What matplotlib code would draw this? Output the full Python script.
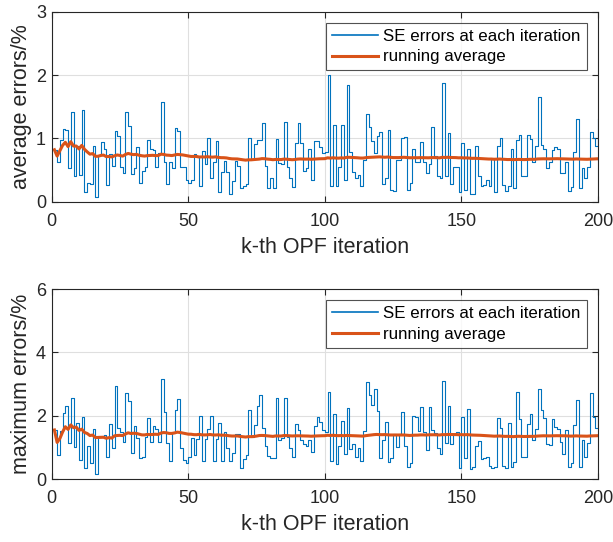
import numpy as np
import matplotlib
matplotlib.use("Agg")
import matplotlib.pyplot as plt

plt.rcParams['font.family'] = ['Liberation Sans', 'DejaVu Sans']

# average SE error per OPF iteration (%)
avg_err = [
    0.82, 0.62, 0.97, 1.15, 1.13, 0.53, 1.41, 0.40, 0.88, 0.42,
    1.45, 0.15, 0.30, 0.28, 0.88, 0.07, 0.74, 0.95, 0.83, 0.26,
    0.75, 0.56, 1.12, 1.04, 0.54, 0.46, 1.42, 1.20, 0.44, 0.53,
    0.87, 0.30, 0.48, 0.54, 0.97, 0.83, 0.81, 0.55, 0.77, 1.57,
    0.62, 0.28, 0.63, 0.53, 1.17, 1.12, 0.55, 0.55, 0.35, 0.29,
    0.35, 0.75, 0.70, 0.24, 0.80, 0.60, 1.00, 0.38, 0.62, 0.96,
    0.16, 0.47, 0.65, 0.47, 0.12, 0.32, 0.64, 0.56, 0.21, 0.24,
    0.28, 1.00, 0.67, 0.91, 0.97, 0.97, 1.25, 0.56, 0.21, 0.37,
    0.21, 0.99, 0.61, 0.59, 1.26, 0.55, 0.38, 0.23, 0.93, 1.25,
    0.92, 0.49, 0.53, 0.83, 0.35, 0.96, 0.96, 0.86, 0.77, 0.78,
    2.00, 0.25, 1.21, 0.25, 0.54, 1.21, 0.34, 1.84, 0.79, 0.47,
    0.37, 0.42, 0.24, 0.66, 1.38, 1.18, 0.96, 0.77, 1.03, 1.10,
    0.28, 0.37, 1.14, 0.18, 0.17, 0.66, 0.66, 1.00, 1.02, 0.19,
    0.29, 0.83, 0.62, 0.62, 0.95, 0.62, 0.46, 0.60, 1.18, 0.72,
    0.40, 0.38, 1.88, 0.40, 1.08, 0.28, 0.55, 0.55, 0.16, 0.92,
    0.18, 0.83, 0.12, 0.12, 0.88, 0.40, 0.24, 0.26, 0.34, 0.25,
    0.67, 0.16, 0.88, 1.00, 0.26, 0.17, 0.24, 0.83, 0.21, 0.97,
    1.05, 0.40, 0.40, 1.05, 0.99, 0.63, 0.88, 1.65, 0.90, 0.84,
    0.53, 0.63, 0.82, 0.86, 0.83, 0.45, 0.45, 0.62, 0.17, 0.23,
    0.78, 1.30, 0.22, 0.53, 0.37, 0.55, 1.10, 1.00, 0.88, 1.30,
]

# maximum SE error per OPF iteration (%)
max_err = [
    1.55, 0.76, 1.53, 2.10, 2.32, 1.15, 2.55, 1.02, 1.78, 0.60,
    1.97, 0.34, 1.04, 0.52, 1.59, 0.15, 1.35, 1.35, 1.39, 0.68,
    1.74, 0.97, 2.95, 1.60, 1.50, 1.18, 2.73, 2.48, 0.81, 1.68,
    1.29, 0.65, 0.71, 1.34, 1.94, 1.18, 1.68, 1.57, 1.18, 3.16,
    2.13, 1.15, 0.58, 1.45, 2.18, 2.53, 0.97, 0.60, 0.50, 0.70,
    1.31, 0.76, 1.26, 2.00, 0.58, 1.26, 1.57, 2.00, 0.58, 1.26,
    1.78, 0.58, 1.47, 0.97, 0.58, 0.83, 1.42, 1.42, 0.34, 0.63,
    0.76, 2.18, 1.32, 1.71, 2.31, 2.66, 1.60, 1.04, 0.73, 0.65,
    0.65, 2.55, 1.23, 1.29, 2.55, 1.34, 0.97, 0.69, 1.73, 1.55,
    1.23, 1.10, 1.04, 1.23, 0.84, 1.66, 1.97, 1.81, 1.55, 1.50,
    2.76, 0.58, 2.06, 0.47, 1.04, 1.84, 0.78, 2.24, 0.94, 1.11,
    0.69, 0.99, 0.58, 1.53, 3.08, 2.66, 2.34, 2.85, 2.15, 0.65,
    1.23, 1.79, 0.54, 0.65, 1.42, 1.02, 1.42, 2.11, 1.04, 0.39,
    0.50, 1.99, 1.95, 1.53, 2.26, 1.47, 0.92, 2.29, 1.55, 1.45,
    0.97, 0.78, 3.11, 1.13, 2.31, 1.11, 1.39, 1.50, 0.34, 1.97,
    0.65, 2.20, 0.31, 0.37, 1.04, 1.20, 0.62, 0.65, 0.71, 0.41,
    0.36, 0.37, 1.94, 1.60, 0.42, 0.34, 1.78, 0.37, 0.55, 2.76,
    1.90, 0.71, 0.71, 1.74, 2.06, 1.23, 1.57, 2.84, 2.18, 1.92,
    1.11, 1.08, 1.89, 1.64, 1.57, 1.18, 0.79, 1.55, 0.39, 0.52,
    1.71, 2.50, 0.39, 1.23, 0.68, 1.13, 2.73, 1.97, 1.60, 2.34,
]

x_ticks = [0, 50, 100, 150, 200]
panels = [
    (avg_err, "average errors/%", [0, 1, 2, 3]),
    (max_err, "maximum errors/%", [0, 2, 4, 6]),
]

blue = '#0072BD'
orange = '#D95319'
axcol = '#262626'

fig = plt.figure(figsize=(6.13, 5.42), dpi=100)
boxes = [[0.0843, 0.6279, 0.8912, 0.3504], [0.0843, 0.1162, 0.8912, 0.3504]]

for box, (vals, ylab, yt) in zip(boxes, panels):
    ax = fig.add_axes(box)
    vals = np.array(vals)
    k = np.arange(1, len(vals) + 1)
    run_avg = np.cumsum(vals) / k
    ax.step(k, vals, where='post', color=blue, lw=0.8, label='SE errors at each iteration')
    ax.plot(k, run_avg, color=orange, lw=2.2, label='running average')
    ax.set_xlim(0, 200)
    ax.set_ylim(yt[0], yt[-1])
    ax.set_xticks(x_ticks)
    ax.set_yticks(yt)
    ax.grid(True, color='#DFDFDF', lw=0.8)
    ax.set_axisbelow(True)
    for s in ax.spines.values():
        s.set_color(axcol)
        s.set_linewidth(0.8)
    ax.tick_params(direction='in', length=4, width=0.8, color=axcol, labelcolor=axcol,
                   labelsize=13, top=True, right=True, pad=4)
    ax.tick_params(axis='x', pad=8)
    ax.set_xlabel("k-th OPF iteration", fontsize=15.5, color=axcol, labelpad=5)
    ax.set_ylabel(ylab, fontsize=15.5, color=axcol, labelpad=3)
    leg = ax.legend(loc='upper right', fontsize=12.2, handlelength=2.7, handletextpad=0.3,
                    borderpad=0.35, labelspacing=0.35, fancybox=False,
                    bbox_to_anchor=(0.979, 0.943), borderaxespad=0)
    leg.get_frame().set_edgecolor(axcol)
    leg.get_frame().set_linewidth(0.8)
    leg.get_lines()[0].set_linewidth(1.2)

fig.savefig("out.png", dpi=100)
